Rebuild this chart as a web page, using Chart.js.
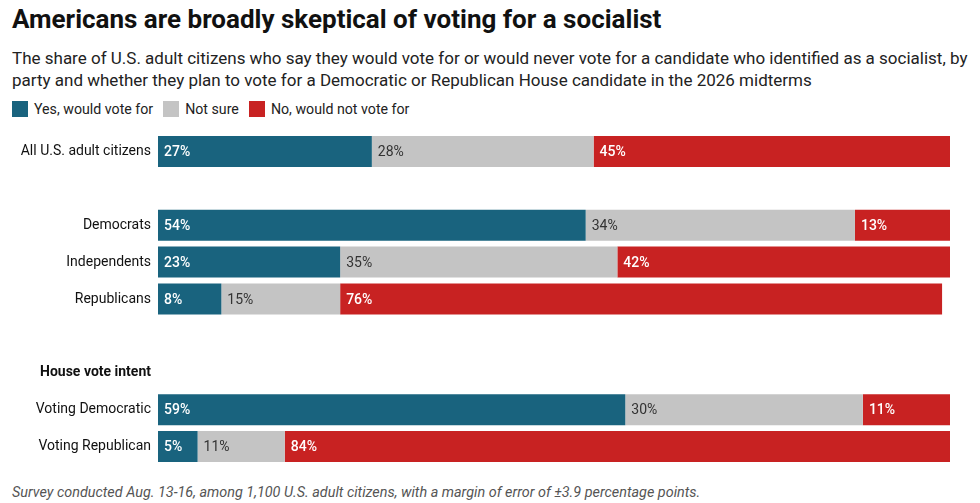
<!DOCTYPE html>
<html><head><meta charset="utf-8">
<script src="https://cdn.jsdelivr.net/npm/chart.js@4"></script>
<style>
body{margin:0;width:980px;height:503px;font-family:Roboto,sans-serif;background:#fff;position:relative;overflow:hidden}
#t{position:absolute;left:12px;top:4px;font-size:26px;font-weight:700;color:#111}
#s{position:absolute;left:12px;top:47px;font-size:17px;line-height:22px;color:#222;width:966px}
#lg{position:absolute;left:12px;top:101px;font-size:14.2px;color:#222;display:flex;gap:10px}
#lg span{display:inline-flex;align-items:center}
#lg i{display:inline-block;width:16px;height:16px;margin-right:6px}
#f{position:absolute;left:12px;top:484px;font-size:14.4px;font-style:italic;color:#555}
canvas{position:absolute;left:0;top:0}
</style></head><body>
<div id="t">Americans are broadly skeptical of voting for a socialist</div>
<div id="s">The share of U.S. adult citizens who say they would vote for or would never vote for a candidate who identified as a socialist, by party and whether they plan to vote for a Democratic or Republican House candidate in the 2026 midterms</div>
<div id="lg"><span><i style="background:#19637e"></i>Yes, would vote for</span><span><i style="background:#c4c4c4"></i>Not sure</span><span><i style="background:#c82222"></i>No, would not vote for</span></div>
<div id="f">Survey conducted Aug. 13-16, among 1,100 U.S. adult citizens, with a margin of error of ±3.9 percentage points.</div>
<div style="position:absolute;left:0;top:0;width:980px;height:503px"><canvas id="c"></canvas></div>
<script>
const categories=["All U.S. adult citizens","","Democrats","Independents","Republicans","","House vote intent","Voting Democratic","Voting Republican"];
const yes=[27,null,54,23,8,null,null,59,5];
const notSure=[28,null,34,35,15,null,null,30,11];
const no=[45,null,13,42,76,null,null,11,84];
const labelPlugin={id:'lbl',afterDatasetsDraw(ch){const ctx=ch.ctx;ch.data.datasets.forEach((ds,di)=>{ch.getDatasetMeta(di).data.forEach((el,i)=>{const v=ds.data[i];if(v==null)return;ctx.save();ctx.font=(di==1?'400 ':'500 ')+'14px Roboto';ctx.fillStyle=di==1?'#333':'#fff';ctx.textBaseline='middle';ctx.fillText(v+'%',el.base+6,el.y+1);ctx.restore();});});}};
new Chart(document.getElementById('c'),{type:'bar',data:{labels:categories,datasets:[
{label:'Yes',data:yes,backgroundColor:'#19637e'},
{label:'Not sure',data:notSure,backgroundColor:'#c4c4c4'},
{label:'No',data:no,backgroundColor:'#c82222'}]},
options:{indexAxis:'y',responsive:true,maintainAspectRatio:false,animation:false,
layout:{padding:{top:133,bottom:38,right:30,left:0}},
plugins:{legend:{display:false},tooltip:{enabled:false}},
datasets:{bar:{barPercentage:1,categoryPercentage:0.84}},
scales:{x:{stacked:true,min:0,max:100,display:false},
y:{stacked:true,grid:{display:false},border:{display:false},afterFit(s){s.width=158;},
ticks:{padding:-1,color:'#111',font:c=>({family:'Roboto',size:14,weight:c.index==6?'700':'400'})}}}},
plugins:[labelPlugin]});
</script></body></html>
